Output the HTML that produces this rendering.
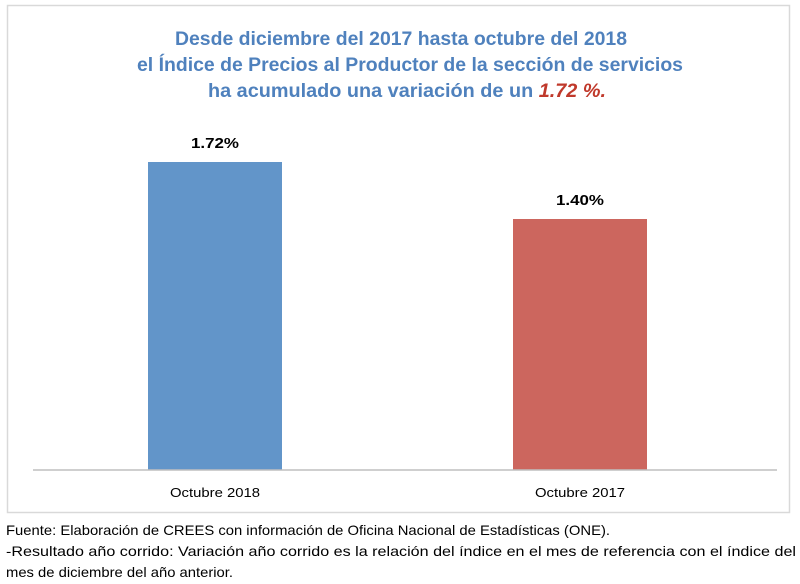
<!DOCTYPE html>
<html><head><meta charset="utf-8"><style>
html,body{margin:0;padding:0;background:#fff;width:800px;height:584px;overflow:hidden}
svg text{font-family:"Liberation Sans",sans-serif}
</style></head><body>
<svg width="800" height="584" viewBox="0 0 800 584" xmlns="http://www.w3.org/2000/svg">
<rect x="7.5" y="5.5" width="782" height="507" fill="#fff" stroke="#d9d9d9" stroke-width="1.5"/>
<g font-weight="bold" font-size="19" fill="#4f81bd" text-anchor="middle">
<text x="401" y="45" textLength="452" lengthAdjust="spacingAndGlyphs">Desde diciembre del 2017 hasta octubre del 2018</text>
<text x="410" y="71" textLength="546" lengthAdjust="spacingAndGlyphs">el Índice de Precios al Productor de la sección de servicios</text>
<text x="407" y="97" textLength="398" lengthAdjust="spacingAndGlyphs">ha acumulado una variación de un <tspan fill="#c0392b" font-style="italic">1.72 %.</tspan></text>
</g>
<rect x="148" y="162" width="134" height="308" fill="#6295c9"/>
<rect x="513" y="219" width="134" height="251" fill="#cc665e"/>
<line x1="33" y1="470" x2="777" y2="470" stroke="#bfbfbf" stroke-width="1.5"/>
<g font-weight="bold" font-size="15" fill="#000" text-anchor="middle">
<text x="215" y="148" textLength="48" lengthAdjust="spacingAndGlyphs">1.72%</text>
<text x="580" y="205" textLength="48" lengthAdjust="spacingAndGlyphs">1.40%</text>
</g>
<g font-size="13" fill="#000" text-anchor="middle">
<text x="215" y="497" textLength="90" lengthAdjust="spacingAndGlyphs">Octubre 2018</text>
<text x="580" y="497" textLength="90" lengthAdjust="spacingAndGlyphs">Octubre 2017</text>
</g>
<g font-size="14" fill="#000">
<text x="6" y="535" textLength="604" lengthAdjust="spacingAndGlyphs">Fuente: Elaboración de CREES con información de Oficina Nacional de Estadísticas (ONE).</text>
<text x="6" y="556" textLength="790" lengthAdjust="spacingAndGlyphs">-Resultado año corrido: Variación año corrido es la relación del índice en el mes de referencia con el índice del</text>
<text x="6" y="577" textLength="227" lengthAdjust="spacingAndGlyphs">mes de diciembre del año anterior.</text>
</g>
</svg>
</body></html>
